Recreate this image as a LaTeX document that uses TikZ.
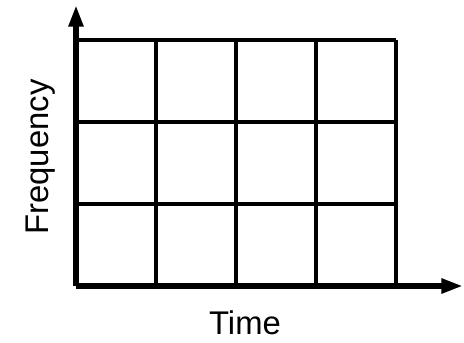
\documentclass[tikz,border=0pt]{standalone}
\usepackage{fontspec}
\setmainfont{Liberation Sans}
\usetikzlibrary{arrows.meta}
\tikzset{
  gridline/.style={line width=3pt},
  axisline/.style={line width=5pt,-{Triangle[length=0.65cm,width=0.42cm]}},
  axislabel/.style={font=\fontsize{28}{32}\selectfont,anchor=base,inner sep=0pt}
}
\begin{document}
\begin{tikzpicture}[x=0.03cm,y=-0.03cm]
			\useasboundingbox (0,0) rectangle (464,343);
			\coordinate (origin) at (76,286);
			\coordinate (ftop) at (76,5);
			\coordinate (tend) at (463,286);
			% grid cells
			\foreach \gx in {156,236,316,396}
				\draw[gridline] (\gx,40) -- (\gx,286);
			\foreach \gy in {40,122,204}
				\draw[gridline] (76,\gy) -- (396,\gy);
			% axes
			\draw[axisline] (origin) -- (ftop);
			\draw[axisline] (origin) -- (tend);
			\node[axislabel] (time) at (245,335) {Time};
			\node[axislabel,rotate=90] (freq) at (48,157) {Frequency};
		\end{tikzpicture}
\end{document}
